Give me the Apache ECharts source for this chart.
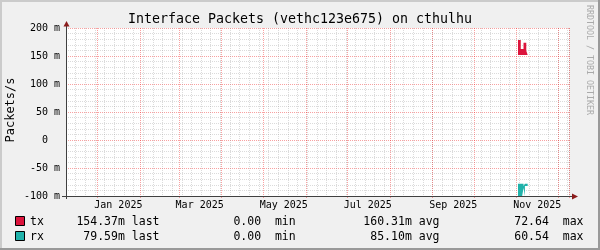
<!DOCTYPE html>
<html><head><meta charset="utf-8">
<script src="https://cdn.jsdelivr.net/npm/echarts@6/dist/echarts.min.js"></script>
<style>html,body{margin:0;padding:0;background:#f0f0f0}#c{width:600px;height:250px}</style>
</head><body><div id="c"></div><script>
// ---- data ----
const titleText = 'Interface Packets (vethc123e675) on cthulhu';
const yAxisName = 'Packets/s';
const watermark = 'RRDTOOL / TOBI OETIKER';
const axisStart = '2024-12-09';
const axisEnd = '2025-12-09';
const monthLabelDates = ['2025-01-16','2025-03-16','2025-05-16','2025-07-16','2025-09-16','2025-11-16'];
const monthLabels = ['Jan 2025','Mar 2025','May 2025','Jul 2025','Sep 2025','Nov 2025'];
const yTickValues = [-100, -50, 0, 50, 100, 150, 200];
const yTickLabels = ['-100 m', '-50 m', '0  ', '50 m', '100 m', '150 m', '200 m'];
// values in milli-packets/s
const stepDates = ['2025-11-02','2025-11-03','2025-11-04','2025-11-05','2025-11-06','2025-11-07','2025-11-08','2025-11-09'];
const txTop   = [178.6, 178.6, 162.5, 162.5, 173.8, 173.8, 159.5, 159.5];
const txFloor = [152, 152, 152, 152, 152, 152, 152, 152];
const rxTop   = [-78, -78, -78, -78, -82, -78, -78, -78];
const rxFloor = [-100, -100, -100, -85.7, -100, -82, -82, -82];
const seriesNames = ['tx', 'rx'];
const lastVals = [0.15437, 0.07959];
const minVals  = [0, 0];
const avgVals  = [0.16031, 0.08510];
const maxVals  = [72.64, 60.54];

// ---- styles ----
const FONT = '"DejaVu Sans Mono", monospace';
const TX = '#dc143c', RX = '#20b2aa';
const MGRID = 'rgba(240,0,0,0.37)';
const GRID = 'rgba(143,143,143,0.32)';
const colors = [TX, RX];
const DAY = 86400000;
function parseLocal(s){ const [y,m,d] = s.split('-').map(Number); return new Date(y, m-1, d).getTime(); }
function fmt(v){
  if (v === 0) return '0.00 ';
  if (Math.abs(v) < 1) return (v*1000).toFixed(2) + 'm';
  return v.toFixed(2) + ' ';
}
const t0 = parseLocal(axisStart), t1 = parseLocal(axisEnd);
const labelTimes = monthLabelDates.map(parseLocal);

function stacked(name, stack, floor, top, color){
  const base = {
    type:'line', name: name + '_base', stack, stackStrategy:'all', step:'end', symbol:'none', silent:true,
    lineStyle:{opacity:0}, data: stepDates.map((d,i)=>[parseLocal(d), floor[i]])
  };
  const fill = {
    type:'line', name, stack, stackStrategy:'all', step:'end', symbol:'none', silent:true,
    lineStyle:{opacity:0}, areaStyle:{color, opacity:1},
    data: stepDates.map((d,i)=>[parseLocal(d), +(top[i]-floor[i]).toFixed(3)])
  };
  return [base, fill];
}

const G = {left:66, top:28, width:503, height:168};
const axisY = G.top + G.height + 0.5;   // 196.5
const axisX = G.left + 0.5;             // 66.5

const graphics = [
  {type:'rect', shape:{x:0,y:0,width:600,height:2}, style:{fill:'#cbcbcb'}, z:100},
  {type:'rect', shape:{x:0,y:0,width:2,height:250}, style:{fill:'#cbcbcb'}, z:100},
  {type:'rect', shape:{x:0,y:248,width:600,height:2}, style:{fill:'#999999'}, z:101},
  {type:'rect', shape:{x:598,y:0,width:2,height:250}, style:{fill:'#999999'}, z:101},
  {type:'text', x:300, y:19.5, style:{text:titleText, font:'13.3px ' + FONT, fill:'#000', align:'center', verticalAlign:'middle'}, z:100},
  {type:'text', x:11, y:110, rotation:Math.PI/2, style:{text:yAxisName, font:'12px ' + FONT, fill:'#000', align:'center', verticalAlign:'middle'}, z:100},
  {type:'text', x:589.5, y:60, rotation:-Math.PI/2, style:{text:watermark, font:'8.3px ' + FONT, fill:'#aaaaaa', align:'center', verticalAlign:'middle'}, z:100},
  {type:'line', shape:{x1:62, y1:axisY, x2:572, y2:axisY}, style:{stroke:'#404040', lineWidth:1}, z:100},
  {type:'line', shape:{x1:axisX, y1:199, x2:axisX, y2:26}, style:{stroke:'#404040', lineWidth:1}, z:100},
  {type:'polygon', shape:{points:[[axisX,21],[axisX-3,26.5],[axisX+3,26.5]]}, style:{fill:'#8b1c1c'}, z:101},
  {type:'polygon', shape:{points:[[578,axisY],[572,axisY-3],[572,axisY+3]]}, style:{fill:'#8b1c1c'}, z:101}
];
const rowY = [222, 237];
seriesNames.forEach((n, i) => {
  const y = rowY[i];
  graphics.push({type:'rect', shape:{x:15.5, y:y-5.5, width:9, height:9}, style:{fill:colors[i], stroke:'#000', lineWidth:1}, z:100});
  const f = '11.5px ' + FONT;
  graphics.push({type:'text', x:30, y, style:{text:n, font:f, fill:'#000', align:'left', verticalAlign:'middle'}, z:100});
  graphics.push({type:'text', x:159.5, y, style:{text:fmt(lastVals[i]) + ' last', font:f, fill:'#000', align:'right', verticalAlign:'middle'}, z:100});
  graphics.push({type:'text', x:295.7, y, style:{text:fmt(minVals[i]) + ' min', font:f, fill:'#000', align:'right', verticalAlign:'middle'}, z:100});
  graphics.push({type:'text', x:439.5, y, style:{text:fmt(avgVals[i]) + ' avg', font:f, fill:'#000', align:'right', verticalAlign:'middle'}, z:100});
  graphics.push({type:'text', x:583.5, y, style:{text:fmt(maxVals[i]) + ' max', font:f, fill:'#000', align:'right', verticalAlign:'middle'}, z:100});
});

const chart = echarts.init(document.getElementById('c'), null, {renderer:'canvas'});
chart.setOption({
  animation:false,
  backgroundColor:'#f0f0f0',
  grid:{left:G.left, top:G.top, width:G.width, height:G.height, show:true, backgroundColor:'#ffffff', borderWidth:0},
  xAxis:[
    { type:'time', min:t0, max:t1, position:'bottom', minInterval:28*DAY, maxInterval:31*DAY,
      axisLine:{show:false, onZero:false}, axisTick:{show:true, length:2, lineStyle:{color:MGRID}},
      axisLabel:{show:false},
      splitLine:{show:true, lineStyle:{color:MGRID, type:[1,1], width:1}}, z:1 },
    { type:'value', min:t0, max:t1, interval:7*DAY, position:'bottom',
      axisLine:{show:false, onZero:false}, axisTick:{show:false}, axisLabel:{show:false},
      splitLine:{show:true, lineStyle:{color:GRID, type:[1,1], width:1}}, z:0 },
    { type:'value', min:t0, max:t1, position:'bottom',
      axisLine:{show:false, onZero:false}, axisTick:{show:false}, splitLine:{show:false},
      axisLabel:{show:true, customValues:labelTimes, margin:4, fontFamily:FONT, fontSize:10, color:'#000',
        formatter:(v)=>{ const i = labelTimes.indexOf(+v); return i >= 0 ? monthLabels[i] : ''; } }, z:0 }
  ],
  yAxis:{ type:'value', min:yTickValues[0], max:yTickValues[yTickValues.length-1], interval:50,
    axisLine:{show:false}, axisTick:{show:false},
    axisLabel:{fontFamily:FONT, fontSize:10, color:'#000', margin:6,
      formatter:(v)=>{ const i = yTickValues.indexOf(v); return i >= 0 ? yTickLabels[i] : ''; }},
    splitLine:{show:true, lineStyle:{color:MGRID, type:[1,1], width:1}},
    minorTick:{show:false, splitNumber:5},
    minorSplitLine:{show:true, lineStyle:{color:GRID, type:[1,1], width:1}} },
  series:[...stacked('tx','tx',txFloor,txTop,TX), ...stacked('rx','rx',rxFloor,rxTop,RX)],
  graphic: graphics
});
</script></body></html>
